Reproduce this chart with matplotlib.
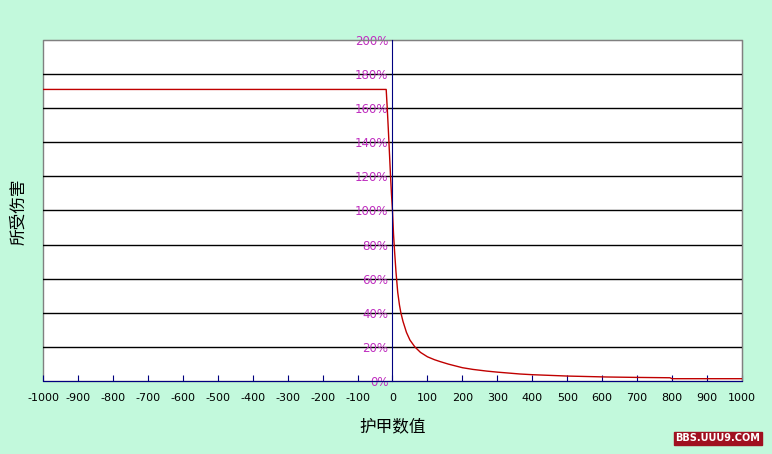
import matplotlib
matplotlib.use("Agg")
import matplotlib.pyplot as plt
from matplotlib.patches import Rectangle

plt.rcParams['font.family'] = ['Noto Sans CJK SC', 'DejaVu Sans']

# armor value vs damage taken (%)
armor = [-1000, -18, -15, -12, -9, -6, -3, 0, 3, 6, 10, 15, 20, 24, 30, 40, 50, 64, 80,
         100, 120, 136, 160, 200, 230, 270, 300, 365, 400, 450, 500, 613, 700, 794, 800, 1000]
damage = [171, 171, 160, 148, 135, 122, 110, 100, 86, 76, 64, 52, 44.5, 40, 35, 28.5, 24, 20, 16.8,
          14.2, 12.5, 11.4, 9.9, 7.8, 6.8, 5.8, 5.2, 4.1, 3.7, 3.3, 2.9, 2.35, 2.1, 1.9, 1.35, 1.35]

xticks = list(range(-1000, 1001, 100))
yticks = list(range(0, 201, 20))
ytick_labels = [f"{v}%" for v in yticks]

bg = '#C2F9DC'
fig = plt.figure(figsize=(7.72, 4.54), dpi=100, facecolor=bg)
ax = fig.add_axes([0.0557, 0.1608, 0.9054, 0.7511])
ax.set_facecolor('white')

ax.set_xlim(-1000, 1000)
ax.set_ylim(0, 200)

for y in yticks[1:-1]:
    ax.axhline(y, color='black', lw=1, zorder=1)

ax.plot(armor, damage, color='#C00000', lw=1, zorder=3)

# frame
for s in ['top', 'right']:
    ax.spines[s].set_color('#808080')
ax.add_patch(Rectangle((0, 0), 1, 1, transform=ax.transAxes, fill=False,
                       edgecolor='#808080', lw=1, zorder=0.5, clip_on=False))

ax.spines['left'].set_position(('data', 0))
ax.spines['left'].set_color('#000080')
ax.spines['left'].set_zorder(4)
ax.spines['bottom'].set_color('#000080')
ax.spines['bottom'].set_zorder(4)

ax.set_xticks(xticks)
ax.set_xticklabels([str(v) for v in xticks])
ax.tick_params(axis='x', direction='in', length=4, color='#000080', pad=9,
               labelsize=8, labelcolor='black')
ax.set_yticks(yticks)
ax.set_yticklabels(ytick_labels)
ax.tick_params(axis='y', length=0, pad=3, labelsize=8.5, labelcolor='#C030C0')
for lbl in ax.get_yticklabels():
    lbl.set_fontfamily(['DejaVu Sans'])
for lbl in ax.get_xticklabels():
    lbl.set_fontfamily(['DejaVu Sans'])

fig.text(0.508, 0.06, '护甲数值', ha='center', va='center', fontsize=12)
fig.text(0.024, 0.533, '所受伤害', ha='center', va='center', fontsize=12, rotation=90)

fig.text(0.985, 0.035, 'BBS.UUU9.COM', ha='right', va='center', fontsize=7,
         color='white', fontweight='bold', family=['DejaVu Sans'],
         bbox=dict(boxstyle='square,pad=0.15', facecolor='#A01020', edgecolor='#A01020'))

fig.savefig('out.png', dpi=100, facecolor=bg)
